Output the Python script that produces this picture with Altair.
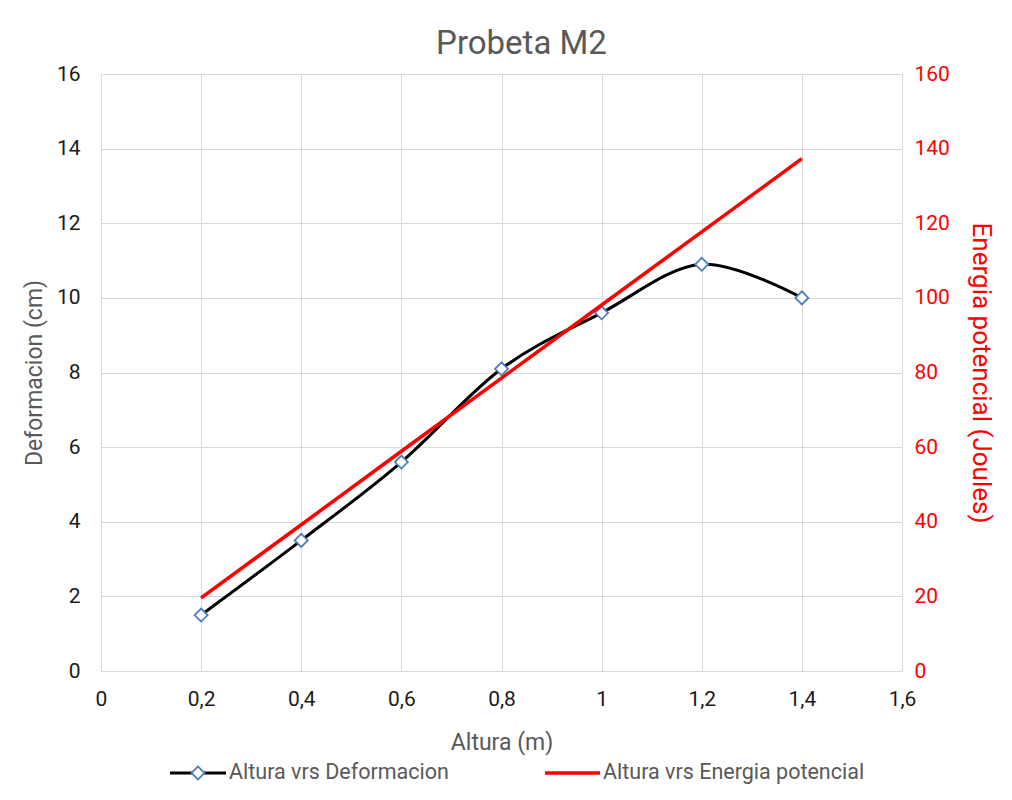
import altair as alt
import pandas as pd

altura = [0.2, 0.4, 0.6, 0.8, 1.0, 1.2, 1.4]
deformacion = [1.5, 3.5, 5.6, 8.1, 9.6, 10.9, 10.0]
energia = [19.6, 39.2, 58.9, 78.5, 98.1, 117.7, 137.3]
series = ["Altura vrs Deformacion", "Altura vrs Energia potencial"]
x_ticks = [0, 0.2, 0.4, 0.6, 0.8, 1.0, 1.2, 1.4, 1.6]
left_ticks = [0, 2, 4, 6, 8, 10, 12, 14, 16]
right_ticks = [0, 20, 40, 60, 80, 100, 120, 140, 160]

df = pd.DataFrame({"altura": altura, "deformacion": deformacion, "energia": energia})

FONT = "Roboto"
GRAY = "#595959"
LABEL = "#1a1a1a"
GRID = "#d9d9d9"
RED = "#ff0000"
BLUE = "#4a7ebb"

x_enc = alt.X(
    "altura:Q",
    scale=alt.Scale(domain=[0, 1.6], nice=False, zero=False),
    axis=alt.Axis(
        values=x_ticks, title="Altura (m)",
        labelExpr="replace(format(datum.value, '~g'), '.', ',')",
        grid=True, gridColor=GRID, domainColor=GRID, ticks=False, labelFlush=False,
        labelFont=FONT, labelFontSize=21, labelColor=LABEL, labelPadding=17,
        titleFont=FONT, titleFontSize=23, titleColor=GRAY, titleFontWeight="normal", titlePadding=22,
    ),
)

base = alt.Chart(df)

black_line = base.mark_line(color="black", strokeWidth=3, interpolate="cardinal").encode(
    x=x_enc,
    y=alt.Y(
        "deformacion:Q",
        scale=alt.Scale(domain=[0, 16], nice=False),
        axis=alt.Axis(
            values=left_ticks, title="Deformacion (cm)", orient="left",
            grid=True, gridColor=GRID, domain=False, ticks=False,
            labelFont=FONT, labelFontSize=21, labelColor=LABEL, labelPadding=21,
            titleFont=FONT, titleFontSize=23, titleColor=GRAY, titleFontWeight="normal", titlePadding=10,
        ),
    ),
)
black_pts = base.mark_point(shape="diamond", size=170, filled=True, fill="white", stroke=BLUE, strokeWidth=1.8, opacity=1).encode(
    x="altura:Q", y="deformacion:Q"
)
left = alt.layer(black_line, black_pts)

red_line = base.mark_line(color=RED, strokeWidth=3.5).encode(
    x="altura:Q",
    y=alt.Y(
        "energia:Q",
        scale=alt.Scale(domain=[0, 160], nice=False),
        axis=alt.Axis(
            values=right_ticks, title="Energia potencial (Joules)", orient="right",
            grid=False, domain=False, ticks=False,
            labelFont=FONT, labelFontSize=21, labelColor=RED, labelPadding=12,
            titleFont=FONT, titleFontSize=26, titleColor=RED, titleFontWeight="normal", titlePadding=18,
        ),
    ),
)

# Legend (drawn below the plot)
leg_black = pd.DataFrame({"label": [series[0]]})
leg_red = pd.DataFrame({"label": [series[1]]})
ly = 699
leg1 = alt.Chart(leg_black).mark_rule(color="black", strokeWidth=3).encode(
    x=alt.value(69), x2=alt.value(125), y=alt.value(ly))
leg2 = alt.Chart(leg_black).mark_point(shape="diamond", size=170, filled=True, fill="white", stroke=BLUE, strokeWidth=1.8, opacity=1).encode(
    x=alt.value(97), y=alt.value(ly))
leg3 = alt.Chart(leg_black).mark_text(align="left", baseline="middle", font=FONT, fontSize=21.5, color=GRAY).encode(
    x=alt.value(128), y=alt.value(ly), text="label:N")
leg4 = alt.Chart(leg_red).mark_rule(color=RED, strokeWidth=3.5).encode(
    x=alt.value(444), x2=alt.value(499), y=alt.value(ly))
leg5 = alt.Chart(leg_red).mark_text(align="left", baseline="middle", font=FONT, fontSize=21.5, color=GRAY).encode(
    x=alt.value(502), y=alt.value(ly), text="label:N")

chart = alt.layer(left, red_line, leg1, leg2, leg3, leg4, leg5).resolve_scale(y="independent").properties(
    width=801,
    height=597,
    padding={"left": 93, "top": 66, "right": 100, "bottom": 120},
    autosize=alt.AutoSizeParams(type="none"),
    title=alt.TitleParams("Probeta M2", font=FONT, fontSize=33, color=GRAY, fontWeight="normal", offset=2, anchor="middle", dx=20),
).configure_view(stroke=None).configure(background="white")

chart.save("out.html", embed_options={"renderer": "svg", "actions": False})
